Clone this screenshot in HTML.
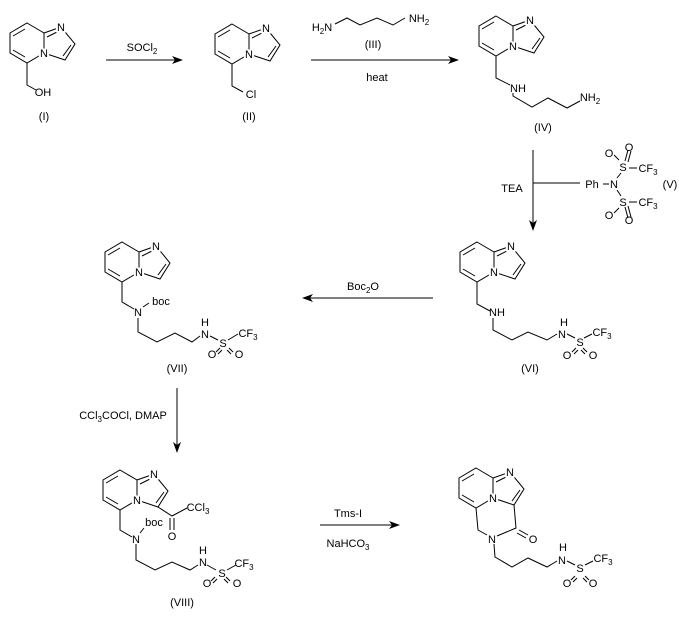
<!DOCTYPE html>
<html><head><meta charset="utf-8"><style>
html,body{margin:0;padding:0;background:#fff;}
svg{display:block;}
text{font-family:"Liberation Sans",Arial,sans-serif;font-size:11px;fill:#000;}
.m{text-anchor:middle;}
.l{paint-order:stroke;stroke:#fff;stroke-width:4px;stroke-linejoin:round;}
</style></head><body>
<svg width="679" height="623" viewBox="0 0 679 623" xmlns="http://www.w3.org/2000/svg">
<defs>
<g id="core" fill="none" stroke="#000" stroke-width="1">
<path d="M0,0 L17,10 L17,30 L0,40 L-17,30 L-17,10 Z"/>
<path d="M-14,13 L-2,6 M-14,27 L-2,34"/>
<path d="M17,10 L34,4 L48,21 L38,37 L17,30"/>
<path d="M20,14 L32,8 M44,22 L36,33"/>
</g>
</defs>
<g stroke="#000" stroke-width="1" fill="none">
<use href="#core" x="27" y="23"/>
<path d="M27,63 L27,85 L36,90"/>
<use href="#core" x="232" y="24"/>
<path d="M232,64 L232,86 L243,92"/>
<path d="M335,24 L347,18 L360,25 L377,18 L393,25 L405,18"/>
<use href="#core" x="496" y="16"/>
<path d="M496,56 L496,78 L510,85 M513,93 L513,96 L532,107 L548,98 L567,108 L580,101"/>
<path d="M106,60 L180,60 M311,60 L455,60 M533,150 L533,228 M533,183 L580,183 M305,298 L433,298 M177,388 L177,450 M320,525 L398,525"/>
<path d="M603,184 L609,184 M617,178 L621,173 M617,190 L621,196 M629,168 L637,168 M629,202 L637,202"/>
<path d="M614,155 L619,160 M628,150 L625,161 M631,151 L628,162 M614,213 L619,208 M628,218 L625,207 M631,217 L628,206"/>
<use href="#core" x="477" y="242"/>
<path d="M477,282 L477,304 L490,311 M493,318 L493,330 L512,340 L528,332 L547,340 L557,334 M567,334 L575,338 M584,338 L592,334 M572,352 L576,348 M574,354 L578,350 M583,348 L587,352 M581,350 L585,354"/>
<use href="#core" x="122" y="242"/>
<path d="M122,282 L122,302 L134,309 M143,307 L149,303 M138,318 L138,332 L157,342 L175,333 L192,342 L200,336 M210,336 L218,340 M228,340 L238,334 M216,352 L220,348 M218,354 L222,350 M229,348 L233,352 M227,350 L231,354"/>
<use href="#core" x="120" y="470"/>
<path d="M158,507 L172,516 L187,508 M170,518 L170,530 M174,518 L174,530 M120,510 L120,530 L132,537 M140,533 L144,528 M136,544 L136,560 L155,570 L172,562 L190,570 L198,565 M207,565 L216,570 M227,570 L236,565 M211,581 L215,577 M213,583 L217,579 M226,577 L230,581 M224,579 L228,583"/>
<use href="#core" x="476" y="468"/>
<path d="M514,505 L516,528 L497,536 M476,508 L478,530 L487,535 M519,530 L528,535 M517,533 L526,538 M494,544 L495,557 L512,567 L528,558 L547,567 L557,561 M567,561 L575,565 M585,565 L593,561 M571,580 L575,576 M573,582 L577,578 M585,576 L589,580 M583,578 L587,582"/>
</g>
<g fill="#000">
<path d="M183,60 L172,56 L175,60 L172,64 Z"/>
<path d="M459,60 L448,56 L451,60 L448,64 Z"/>
<path d="M533,231 L529,220 L533,223 L537,220 Z"/>
<path d="M302,298 L313,294 L310,298 L313,302 Z"/>
<path d="M177,453 L173,442 L177,445 L181,442 Z"/>
<path d="M400,525 L389,521 L392,525 L389,529 Z"/>
</g>
<g>
<text x="61" y="31" class="m l">N</text><text x="44" y="57" class="m l">N</text>
<text x="266" y="32" class="m l">N</text><text x="249" y="58" class="m l">N</text>
<text x="530" y="24" class="m l">N</text><text x="513" y="50" class="m l">N</text>
<text x="511" y="250" class="m l">N</text><text x="494" y="276" class="m l">N</text>
<text x="156" y="250" class="m l">N</text><text x="139" y="276" class="m l">N</text>
<text x="154" y="478" class="m l">N</text><text x="137" y="504" class="m l">N</text>
<text x="510" y="476" class="m l">N</text><text x="493" y="502" class="m l">N</text>
</g>
<text x="43" y="96" class="m">OH</text>
<text x="44" y="120" class="m">(I)</text>
<text x="142" y="51" class="m">SOCl<tspan font-size="8" dy="3">2</tspan></text>
<text x="251" y="98" class="m">Cl</text>
<text x="249" y="120" class="m">(II)</text>
<text x="322" y="31" class="m">H<tspan font-size="8" dy="3">2</tspan><tspan dy="-3">N</tspan></text>
<text x="419" y="22" class="m">NH<tspan font-size="8" dy="3">2</tspan></text>
<text x="373" y="48" class="m">(III)</text>
<text x="377" y="81" class="m">heat</text>
<text x="518" y="92" class="m">NH</text>
<text x="590" y="101" class="m">NH<tspan font-size="8" dy="3">2</tspan></text>
<text x="543" y="131" class="m">(IV)</text>
<text x="512" y="192" class="m">TEA</text>
<text x="592" y="188" class="m">Ph</text>
<text x="614" y="188" class="m">N</text>
<text x="623" y="171" class="m">S</text><text x="623" y="206" class="m">S</text>
<text x="648" y="172" class="m">CF<tspan font-size="8" dy="3">3</tspan></text>
<text x="648" y="206" class="m">CF<tspan font-size="8" dy="3">3</tspan></text>
<text x="609" y="157" class="m">O</text><text x="629" y="151" class="m">O</text>
<text x="609" y="219" class="m">O</text><text x="629" y="224" class="m">O</text>
<text x="670" y="188" class="m">(V)</text>
<text x="497" y="316" class="m">NH</text>
<text x="564" y="326" class="m">H</text><text x="562" y="338" class="m">N</text>
<text x="580" y="346" class="m">S</text>
<text x="602" y="336" class="m">CF<tspan font-size="8" dy="3">3</tspan></text>
<text x="567" y="359" class="m">O</text><text x="593" y="359" class="m">O</text>
<text x="530" y="372" class="m">(VI)</text>
<text x="363" y="290" class="m">Boc<tspan font-size="8" dy="3">2</tspan><tspan dy="-3">O</tspan></text>
<text x="138" y="316" class="m">N</text>
<text x="161" y="305" class="m">boc</text>
<text x="205" y="326" class="m">H</text><text x="205" y="338" class="m">N</text>
<text x="223" y="347" class="m">S</text>
<text x="248" y="337" class="m">CF<tspan font-size="8" dy="3">3</tspan></text>
<text x="212" y="358" class="m">O</text><text x="239" y="358" class="m">O</text>
<text x="177" y="372" class="m">(VII)</text>
<text x="123" y="419" class="m">CCl<tspan font-size="8" dy="3">3</tspan><tspan dy="-3">COCl, DMAP</tspan></text>
<text x="198" y="511" class="m">CCl<tspan font-size="8" dy="3">3</tspan></text>
<text x="172" y="540" class="m">O</text>
<text x="136" y="543" class="m">N</text>
<text x="154" y="526" class="m">boc</text>
<text x="203" y="554" class="m">H</text><text x="203" y="566" class="m">N</text>
<text x="222" y="577" class="m">S</text>
<text x="244" y="567" class="m">CF<tspan font-size="8" dy="3">3</tspan></text>
<text x="207" y="587" class="m">O</text><text x="237" y="587" class="m">O</text>
<text x="182" y="606" class="m">(VIII)</text>
<text x="348" y="517" class="m">Tms-I</text>
<text x="348" y="547" class="m">NaHCO<tspan font-size="8" dy="3">3</tspan></text>
<text x="533" y="543" class="m">O</text>
<text x="492" y="543" class="m">N</text>
<text x="563" y="551" class="m">H</text><text x="562" y="564" class="m">N</text>
<text x="580" y="572" class="m">S</text>
<text x="603" y="562" class="m">CF<tspan font-size="8" dy="3">3</tspan></text>
<text x="567" y="587" class="m">O</text><text x="593" y="587" class="m">O</text>
</svg>
</body></html>
